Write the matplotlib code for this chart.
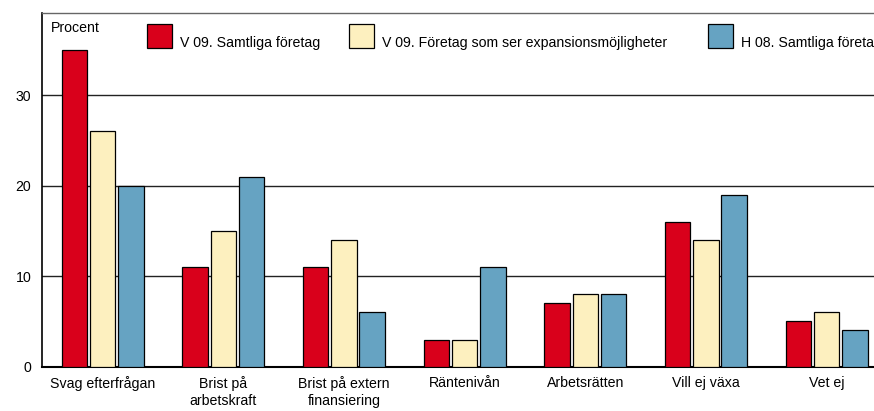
import numpy as np
import matplotlib.pyplot as plt
from matplotlib.patches import Rectangle

plt.rcParams['font.family'] = ['Liberation Sans', 'DejaVu Sans']

# Chart data (percent)
categories = ['Svag efterfrågan', 'Brist på\narbetskraft', 'Brist på extern\nfinansiering',
              'Räntenivån', 'Arbetsrätten', 'Vill ej växa', 'Vet ej']
v09_all = [35, 11, 11, 3, 7, 16, 5]
v09_expansion = [26, 15, 14, 3, 8, 14, 6]
h08_all = [20, 21, 6, 11, 8, 19, 4]

series_names = ['V 09. Samtliga företag',
                'V 09. Företag som ser expansionsmöjligheter',
                'H 08. Samtliga företag']
colors = ['#d9001b', '#fdf0bf', '#66a3c2']

W, H = 874, 411
fig = plt.figure(figsize=(W / 100, H / 100), dpi=100)


def fx(px):
    return px / W


def fy(py):
    return 1 - py / H


# axes runs past the right edge of the picture, as in the reference
ax = fig.add_axes([fx(42.3), fy(366.7), fx(886.9 - 42.3), (366.7 - 12.7) / H])

x = np.arange(len(categories))
offset = 0.234
width = 0.211
for vals, off, col in zip([v09_all, v09_expansion, h08_all], [-offset, 0, offset], colors):
    ax.bar(x + off, vals, width, color=col, edgecolor='black', linewidth=0.9, zorder=3)

fs = 10.2
ax.set_xlim(-0.5, 6.5)
ax.set_ylim(0, 39.1)
ax.set_yticks([0, 10, 20, 30])
ax.set_xticks(x)
ax.set_xticklabels(categories, fontsize=fs, linespacing=1.25)
ax.tick_params(axis='both', length=0, labelsize=fs)
ax.tick_params(axis='x', pad=7)
ax.tick_params(axis='y', pad=8)

ax.yaxis.grid(True, color='#222222', linewidth=1.0, zorder=0)
ax.set_axisbelow(True)

ax.spines['right'].set_visible(False)
ax.spines['top'].set_color('#666666')
ax.spines['top'].set_linewidth(1.0)
ax.spines['left'].set_color('black')
ax.spines['left'].set_linewidth(1.2)
ax.spines['bottom'].set_color('black')
ax.spines['bottom'].set_linewidth(1.5)

# unit label inside the plot
fig.text(fx(51), fy(32.3), 'Procent', fontsize=fs, va='baseline', ha='left')

# legend row across the top
legend_x = [146.7, 349.3, 707.7]
for lx, name, col in zip(legend_x, series_names, colors):
    fig.add_artist(Rectangle((fx(lx), fy(48.3)), fx(25), (48.3 - 24) / H,
                             facecolor=col, edgecolor='black', linewidth=0.9,
                             transform=fig.transFigure))
    fig.text(fx(lx + 33), fy(46.7), name, fontsize=fs, va='baseline', ha='left')

fig.savefig('out.png', dpi=100)
